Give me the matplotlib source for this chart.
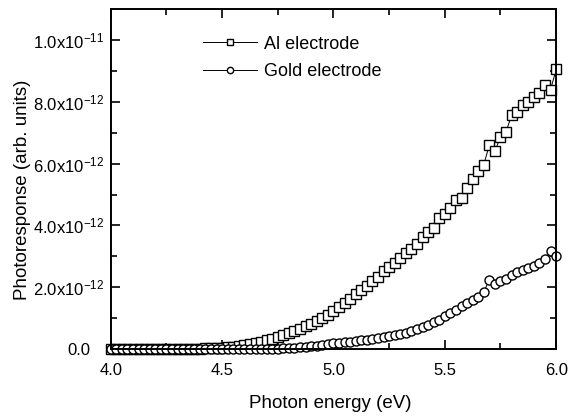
import matplotlib
matplotlib.use('Agg')
import matplotlib.pyplot as plt
import matplotlib.transforms as mtransforms
import numpy as np

plt.rcParams['font.family'] = ['Liberation Sans', 'DejaVu Sans']
plt.rcParams['mathtext.default'] = 'regular'

# photon energy (eV)
energy = [4.000, 4.025, 4.050, 4.075, 4.100, 4.125, 4.150, 4.175, 4.200, 4.225,
          4.250, 4.275, 4.300, 4.325, 4.350, 4.375, 4.400, 4.425, 4.450, 4.475,
          4.500, 4.525, 4.550, 4.575, 4.600, 4.625, 4.650, 4.675, 4.700, 4.725,
          4.750, 4.775, 4.800, 4.825, 4.850, 4.875, 4.900, 4.925, 4.950, 4.975,
          5.000, 5.025, 5.050, 5.075, 5.100, 5.125, 5.150, 5.175, 5.200, 5.225,
          5.250, 5.275, 5.300, 5.325, 5.350, 5.375, 5.400, 5.425, 5.450, 5.475,
          5.500, 5.525, 5.550, 5.575, 5.600, 5.625, 5.650, 5.675, 5.700, 5.725,
          5.750, 5.775, 5.800, 5.825, 5.850, 5.875, 5.900, 5.925, 5.950, 5.975,
          6.000]

# photoresponse in units of 1e-12
al = [0.00, 0.00, 0.00, 0.00, 0.00, 0.00, 0.00, 0.00, 0.00, 0.00,
      0.00, 0.00, 0.00, 0.00, 0.01, 0.01, 0.01, 0.02, 0.02, 0.03,
      0.04, 0.05, 0.07, 0.09, 0.12, 0.15, 0.19, 0.23, 0.28, 0.33,
      0.38, 0.45, 0.52, 0.58, 0.66, 0.74, 0.80, 0.90, 1.00, 1.10,
      1.22, 1.35, 1.50, 1.62, 1.78, 1.92, 2.05, 2.20, 2.32, 2.52,
      2.66, 2.80, 2.95, 3.10, 3.25, 3.40, 3.62, 3.80, 3.92, 4.25,
      4.38, 4.55, 4.82, 4.90, 5.20, 5.50, 5.75, 5.97, 6.60, 6.40,
      6.87, 7.03, 7.57, 7.67, 7.90, 8.00, 8.15, 8.30, 8.56, 8.40,
      9.05]

gold = [0.00, 0.00, 0.00, 0.00, 0.00, 0.00, 0.00, 0.00, 0.00, 0.00,
        0.00, 0.00, 0.00, 0.00, 0.00, 0.00, 0.00, 0.00, 0.00, 0.00,
        0.00, 0.00, 0.00, 0.00, 0.00, 0.00, 0.00, 0.00, 0.00, 0.01,
        0.01, 0.02, 0.03, 0.04, 0.06, 0.07, 0.09, 0.11, 0.13, 0.15,
        0.18, 0.20, 0.22, 0.24, 0.26, 0.28, 0.30, 0.32, 0.35, 0.38,
        0.41, 0.44, 0.48, 0.53, 0.58, 0.64, 0.70, 0.78, 0.88, 0.95,
        1.08, 1.18, 1.25, 1.38, 1.48, 1.58, 1.70, 1.85, 2.24, 2.12,
        2.20, 2.28, 2.38, 2.48, 2.56, 2.62, 2.68, 2.80, 2.90, 3.18,
        3.02]

yticks = [0, 2e-12, 4e-12, 6e-12, 8e-12, 1e-11]
ytick_labels = ['0.0', r'2.0x10$^{-12}$', r'4.0x10$^{-12}$',
                r'6.0x10$^{-12}$', r'8.0x10$^{-12}$', r'1.0x10$^{-11}$']
xticks = [4.0, 4.5, 5.0, 5.5, 6.0]

fig = plt.figure(figsize=(5.71, 4.17), dpi=100)
ax = fig.add_axes([0.194, 0.163, 0.780, 0.815])

ax.plot(energy, np.array(al) * 1e-12, color='black', lw=0.7, marker='s',
        ms=7, mfc='white', mec='black', mew=1.0, clip_on=False,
        label='Al electrode')
ax.plot(energy, np.array(gold) * 1e-12, color='black', lw=0.7, marker='o',
        ms=6.5, mfc='white', mec='black', mew=1.0, clip_on=False,
        label='Gold electrode')

ax.set_xlim(4.0, 6.0)
ax.set_ylim(0, 1.1e-11)
ax.set_xticks(xticks, ['%.1f' % v for v in xticks])
ax.set_xticks([4.25, 4.75, 5.25, 5.75], minor=True)
ax.set_yticks(yticks, ytick_labels)
ax.set_yticks([1e-12, 3e-12, 5e-12, 7e-12, 9e-12], minor=True)

ax.tick_params(which='both', direction='in', top=True, right=True,
               labelsize=12, width=1.2)
ax.tick_params(which='major', length=6.5)
ax.tick_params(which='minor', length=4)
ax.tick_params(axis='y', pad=5)
ax.tick_params(axis='x', pad=10)
for sp in ax.spines.values():
    sp.set_linewidth(1.4)

# the zero label sits a bit further left, aligned with the mantissas
zero_lbl = ax.yaxis.get_major_ticks()[0].label1
zero_lbl.set_transform(zero_lbl.get_transform() +
                       mtransforms.ScaledTranslation(-0.13, 0, fig.dpi_scale_trans))

ax.set_xlabel('Photon energy (eV)', fontsize=13.5)
ax.set_ylabel('Photoresponse (arb. units)', fontsize=13.5)
ax.xaxis.set_label_coords(0.492, -0.135)
ax.yaxis.set_label_coords(-0.178, 0.468)

ax.legend(loc='upper left', bbox_to_anchor=(0.17, 0.97), frameon=False,
          fontsize=13, handlelength=3.0, handletextpad=0.4, labelspacing=0.6,
          markerscale=0.7)

plt.savefig('out.png', dpi=100)
